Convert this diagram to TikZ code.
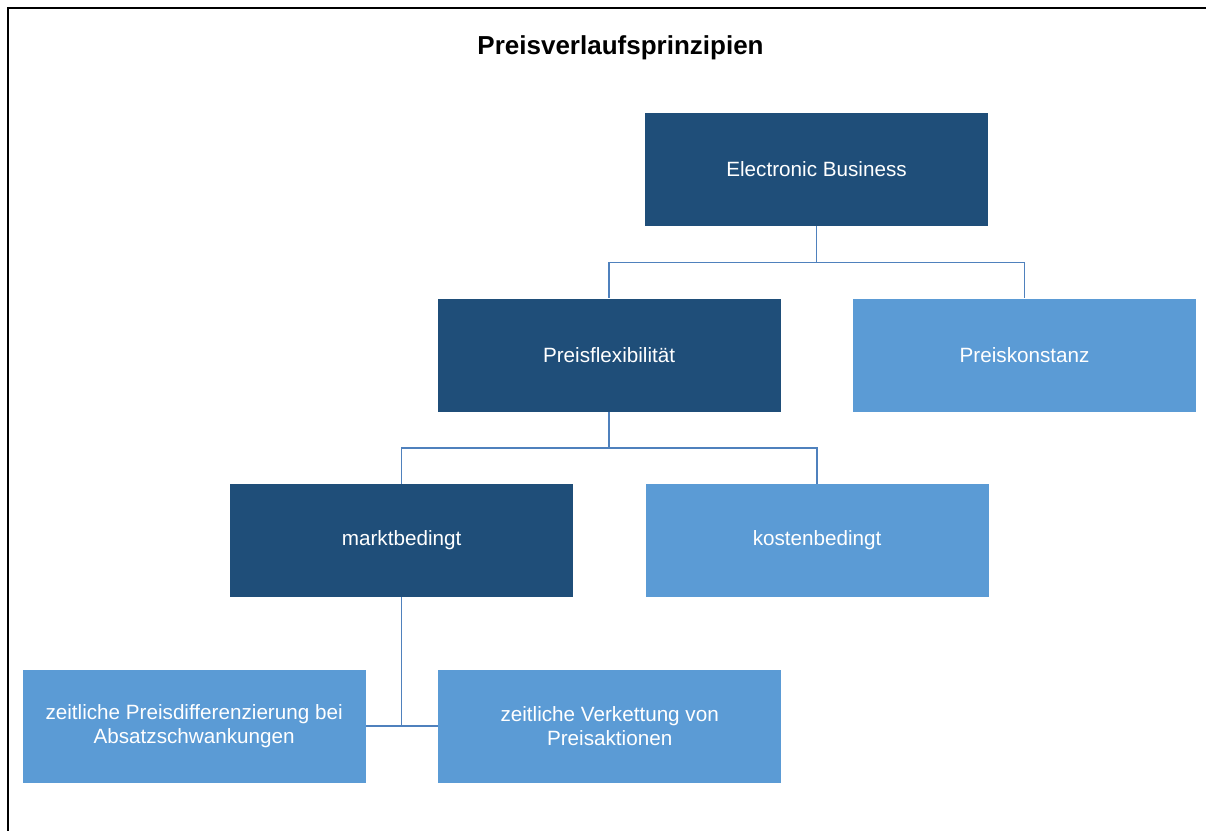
\documentclass[tikz,border=0pt]{standalone}
\usepackage{fontspec}
\setmainfont{Liberation Sans}
\usetikzlibrary{positioning}
\definecolor{ink}{HTML}{000000}
\definecolor{darkfill}{HTML}{1F4E79}
\definecolor{lightfill}{HTML}{5B9BD5}
\definecolor{linkcol}{HTML}{4F81BD}
\tikzset{
  box/.style={minimum width=257.25pt, minimum height=84.75pt, inner sep=0pt, align=center, text=white, font=\fontsize{15.5}{18}\selectfont},
  darkbox/.style={box, fill=darkfill},
  lightbox/.style={box, fill=lightfill},
  link/.style={draw=linkcol, line width=1.1pt}
}

\begin{document}
\begin{tikzpicture}[node distance=54pt and 54pt]
  \useasboundingbox (0,0) rectangle (904.5pt,-623.25pt);
  % frame
  \draw[ink, line width=1.6pt] (6pt,-623.25pt) -- (6pt,-6pt) -- (904.5pt,-6pt);

  \node[font=\fontsize{19.5}{23}\selectfont\bfseries] (title) at (465.4pt,-35.5pt) {Preisverlaufsprinzipien};

  \node[darkbox] (eb) at (612.4pt,-127.1pt) {Electronic Business};
  \node[darkbox, below=of eb, xshift=-155.6pt] (flex) {Preisflexibilität};
  \node[lightbox, right=of flex] (konst) {Preiskonstanz};
  \node[darkbox, below=of flex, xshift=-155.6pt] (markt) {marktbedingt};
  \node[lightbox, right=of markt] (kosten) {kostenbedingt};
  \node[lightbox, below=of markt, xshift=-155.6pt] (zpd) {zeitliche Preisdifferenzierung bei\\Absatzschwankungen};
  \node[lightbox, right=of zpd] (zvp) {zeitliche Verkettung von\\Preisaktionen};

  \draw[link] (eb.south) -- ++(0,-27pt) -| (flex.north);
  \draw[link] (eb.south) -- ++(0,-27pt) -| (konst.north);
  \draw[link] (flex.south) -- ++(0,-27pt) -| (markt.north);
  \draw[link] (flex.south) -- ++(0,-27pt) -| (kosten.north);
  \draw[link] (markt.south) |- (zpd.east);
  \draw[link] (markt.south) |- (zvp.west);
\end{tikzpicture}
\end{document}
